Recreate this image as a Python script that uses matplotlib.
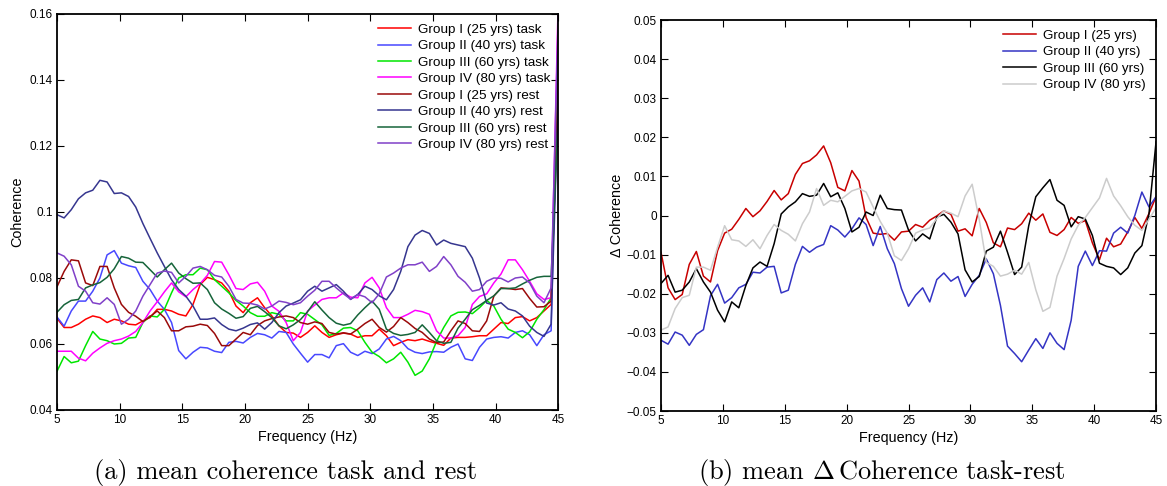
import numpy as np
import matplotlib
matplotlib.use("Agg")
import matplotlib.pyplot as plt

plt.rcParams['font.family'] = ['Liberation Sans', 'DejaVu Sans']
plt.rcParams['mathtext.fontset'] = 'cm'

freq = np.linspace(5, 45, 71)

# ---- panel (a): mean coherence (task / rest) ----
g1_task = [67.8, 65, 65, 66, 67.5, 68.5, 68, 66.5, 67.5, 67, 66, 65.8, 67, 68, 70.5, 70.5, 70, 69, 68.5, 72,
           78, 80.2, 79.5, 78.5, 76, 71.5, 69.5, 72.5, 74, 71, 68.5, 65.5, 63.5, 63.3, 62, 63.5, 65.5, 63.5, 62, 62.8,
           63.3, 63, 62, 62.5, 62.5, 64.5, 62.5, 59.5, 60.5, 61.3, 61, 61.5, 60.8, 60.2, 59.6, 61.8, 62, 62, 62.2, 62.5,
           62.5, 64.5, 66.5, 66.2, 68, 68.3, 67, 68, 70, 72, 142]
g2_task = [68.2, 65.4, 70, 73, 73, 76, 80, 87, 88.3, 84.5, 83.7, 83.2, 79, 76.5, 73, 70.5, 66.5, 58, 55.5, 57.5,
           59, 58.8, 57.8, 57.4, 60.5, 60.8, 60.3, 62, 63.2, 62.8, 61.8, 63.8, 63.5, 60, 57.2, 54.5, 56.8, 56.8, 55.8, 59.5,
           60.1, 57.5, 56.5, 57.8, 57.1, 58.5, 61.5, 62.3, 61, 58.6, 57.5, 57.1, 57.6, 57.7, 57.5, 59, 60, 55.5, 55, 59,
           61.5, 62, 62.2, 61.8, 63.5, 64, 62.8, 59.5, 62.8, 64, 155]
g3_task = [51.7, 56.2, 54.3, 54.8, 59.5, 63.8, 61.5, 61, 60, 60.2, 61.8, 62, 66.5, 68.5, 68.2, 70.5, 75.5, 80, 81, 81,
           83, 82.5, 79.5, 77.5, 75.5, 73.2, 71.5, 69.5, 68.4, 68.4, 69.5, 69, 67, 67, 69.5, 69, 67.4, 65.8, 62.6, 63.2,
           64.8, 65, 64, 60.5, 57.5, 56.2, 54.3, 55.5, 57.5, 54.5, 50.5, 51.8, 55.5, 60.8, 65, 68.5, 69.6, 69.7, 69.2, 71,
           73.2, 71.5, 67.5, 64.5, 63.5, 61.9, 63.7, 67.5, 70.4, 74, 148]
g4_task = [57.8, 57.8, 57.8, 55.7, 54.9, 57.2, 58.8, 60.2, 61, 61.5, 62.4, 63.8, 66.5, 70, 72.8, 75.8, 78.5, 75.8, 74.3, 76.5,
           78.3, 80.8, 85, 84.8, 81, 76.8, 76.5, 78.2, 78.7, 76, 71.5, 69.9, 66.5, 61, 63.5, 70, 71.8, 73.5, 74, 74,
           75.5, 74.2, 74, 78.5, 80.2, 77, 71, 68, 68, 69, 70.2, 69.8, 69, 64, 61.8, 61.8, 62.5, 65, 72, 74.4,
           75.2, 78.5, 81.2, 85.5, 85.5, 82.5, 79, 75.2, 73.5, 74, 165]
g1_rest = [77.3, 82, 85.5, 85.2, 78.5, 77.7, 83.5, 83.5, 77, 72, 69.6, 68.4, 66.8, 68.3, 70, 68, 64, 64, 65.2, 65.4,
           66, 65.6, 63.2, 59.5, 59.5, 61.5, 63.5, 62.8, 65.6, 67, 67.7, 68.2, 68.5, 68, 66.5, 66, 66.7, 66.2, 63.5, 63,
           63.4, 63, 64.5, 66.2, 67.5, 65, 63.6, 65.3, 68, 66.5, 64.7, 63.5, 61.5, 60.4, 60.6, 64, 67, 66.2, 64, 63.8,
           67, 74.5, 77, 76.8, 76.5, 76.8, 73.8, 71.2, 71.3, 73, 140]
g2_rest = [99.2, 98.2, 100.7, 104, 105.8, 106.6, 109.6, 109.1, 105.6, 105.8, 104.7, 101.5, 96.5, 92, 87.6, 83.5, 79.5, 76.5, 74.5, 71.5,
           67.5, 67.5, 67.9, 65.9, 64.5, 64, 64.8, 65.9, 66.4, 64.5, 66.5, 69.5, 71.5, 72.4, 73.4, 76, 77.5, 76, 77, 78,
           76, 73.5, 75, 77.5, 76.5, 74.6, 73.4, 76.5, 82, 89.5, 93, 94.4, 93.5, 90, 91.5, 90.5, 90, 89.5, 86, 80,
           72.4, 71.8, 72.5, 70.6, 70, 68.5, 65.4, 63.5, 62.3, 66, 135]
g3_rest = [69.6, 71.9, 73.2, 73.5, 77, 77.9, 78.6, 80.2, 82.8, 86.5, 86, 84.8, 84.7, 82.5, 80.3, 82.5, 84.5, 81.5, 79.8, 78.4,
           78.5, 76.5, 72.5, 70.6, 69.3, 67.8, 68.3, 70.8, 71.4, 69.8, 68, 65.5, 64.6, 65.8, 67.4, 69.8, 72.8, 70.3, 68, 66.3,
           65.7, 66.2, 68.8, 71, 73, 70.5, 64.5, 63.2, 62.6, 62.9, 63.5, 65.8, 63.5, 61, 60.2, 60.5, 64.8, 67.5, 70.4, 71.7,
           73.2, 74.6, 76.8, 76.8, 77, 78.2, 79.3, 80.2, 80.5, 80.5, 129]
g4_rest = [87.6, 86.6, 84, 77.5, 76, 72.5, 72.1, 74, 72, 66, 67.5, 70, 74.5, 78, 81.5, 82.1, 81.7, 78.5, 80.5, 83,
           83.5, 82.5, 80.8, 80.3, 77.5, 73.5, 72.4, 72.3, 71.8, 70.6, 71.5, 73, 72.6, 71.9, 72.5, 74.5, 76.3, 79, 79, 77,
           75.2, 73.6, 75, 74.3, 72.5, 75.2, 80.3, 81.5, 83, 84, 84, 84.8, 82, 83.5, 86.5, 84, 80.5, 78.7, 76, 76.5,
           79, 80, 79.9, 78.8, 80, 80.3, 78.5, 74.5, 72.5, 77, 160]

# ---- panel (b): mean delta coherence (task - rest) ----
d_g1 = [-9.4, -18.5, -21.5, -20.2, -12.5, -9.2, -15.5, -17, -9, -4.5, -3.5, -1, 1.8, -0.3, 1.2, 3.6, 6.4, 4.0, 5.6, 10.5,
        13.3, 14, 15.5, 17.8, 13.5, 7.2, 6.3, 11.5, 8.8, -0.5, -4.5, -4.8, -4.6, -6.3, -4.2, -4, -2.3, -3, -1.2, -0.1,
        1.2, 0.3, -4, -3.4, -5.2, 1.8, -1.8, -7, -8, -3.2, -3.6, -2.1, 0.6, -1.2, 0.4, -4.3, -5.1, -3.6, -0.5, -2,
        -1.3, -7, -11.3, -5.8, -8, -7.3, -4.2, -0.5, -3.3, 0.5, 4.8]
d_g2 = [-31.9, -32.9, -29.8, -30.6, -33.2, -30.4, -29.2, -20.5, -17.6, -22.4, -21, -18.5, -17.6, -14.5, -14.7, -13.2, -13, -19.8, -19.1, -12.5,
        -7.9, -9.4, -8.1, -7.4, -2.6, -3.7, -5.5, -3.4, -0.6, -2.3, -7.7, -2.8, -8.5, -12.3, -18.7, -23.2, -20.4, -18.5, -22.1, -16.4,
        -14.7, -16.8, -15.6, -20.7, -17.6, -15.3, -11.1, -14.9, -23, -33.4, -35.3, -37.4, -34.4, -31.5, -34, -30, -32.7, -34.3, -26.8, -13,
        -9.1, -12.8, -9, -9.1, -4.5, -3, -4.5, 0, 6, 2.2, 4.8]
d_g3 = [-17.4, -15.3, -19.6, -19.1, -17, -13.6, -17, -19.6, -24.2, -27.2, -22.1, -23.6, -17.9, -13.4, -11.9, -13, -7.2, 0.4, 2.2, 3.5,
        5.6, 4.9, 5.2, 8.2, 4.8, 5.8, 1.8, -4.2, -3, 0.9, 0, 5.2, 1.8, 1.5, 1.4, -3.7, -6.5, -4.7, -6, -0.4,
        0.3, -1.7, -4.7, -13.9, -17, -15.6, -9.1, -8.1, -4, -9.4, -15.1, -13.2, -2.6, 4.8, 7.1, 9.2, 3.9, 2.6, -2.9, -0.3,
        -0.9, -5.1, -12.2, -13, -13.4, -15.1, -13.4, -9.6, -7.7, 0.4, 18.8]
d_g4 = [-29.3, -28.5, -23.8, -21, -20.4, -13.2, -13.2, -14, -8.1, -2.6, -6.2, -6.5, -7.9, -6.2, -8.5, -5.1, -2.3, -3.8, -4.8, -6.5,
        -2.1, 0.9, 6.9, 2.6, 3.9, 3.5, 4.9, 6.3, 6.9, 6, 2.2, -1.5, -4.5, -10.3, -11.5, -8.5, -4.5, -3.7, -3.2, -0.8,
        1.2, 0.6, -0.3, 5, 8, -1, -12, -13, -15.5, -15, -14, -15, -12, -19, -24.5, -23.5, -15.5, -11, -6, -2.5,
        -0.5, 2, 4.5, 9.5, 5, 2.5, -0.3, -2.5, -3.8, -1, 2]

labels_a = ['Group I (25 yrs) task', 'Group II (40 yrs) task', 'Group III (60 yrs) task', 'Group IV (80 yrs) task',
            'Group I (25 yrs) rest', 'Group II (40 yrs) rest', 'Group III (60 yrs) rest', 'Group IV (80 yrs) rest']
labels_b = ['Group I (25 yrs)', 'Group II (40 yrs)', 'Group III (60 yrs)', 'Group IV (80 yrs)']

xticks = [5, 10, 15, 20, 25, 30, 35, 40, 45]
yticks_a = [0.04, 0.06, 0.08, 0.10, 0.12, 0.14, 0.16]
yticklabels_a = ['0.04', '0.06', '0.08', '0.1', '0.12', '0.14', '0.16']
yticks_b = [-0.05, -0.04, -0.03, -0.02, -0.01, 0, 0.01, 0.02, 0.03, 0.04, 0.05]
yticklabels_b = ['\u22120.05', '\u22120.04', '\u22120.03', '\u22120.02', '\u22120.01', '0',
                 '0.01', '0.02', '0.03', '0.04', '0.05']

colors_a = ['#ff0000', '#4848ff', '#00e600', '#ff00ff', '#9a0a0a', '#36368f', '#16643a', '#8040c8']
colors_b = ['#c80000', '#3434c4', '#000000', '#cccccc']

fig = plt.figure(figsize=(11.67, 4.86), dpi=100)
axA = fig.add_axes([0.0488, 0.1564, 0.4296, 0.8148])
axB = fig.add_axes([0.5664, 0.1543, 0.4242, 0.8045])

series_a = [g1_task, g2_task, g3_task, g4_task, g1_rest, g2_rest, g3_rest, g4_rest]
for vals, c, lab in zip(series_a, colors_a, labels_a):
    axA.plot(freq, np.array(vals) / 1000.0, color=c, lw=1.1, label=lab)

series_b = [d_g1, d_g2, d_g3, d_g4]
for vals, c, lab in zip(series_b, colors_b, labels_b):
    axB.plot(freq, np.array(vals) / 1000.0, color=c, lw=1.1, label=lab)

for ax in (axA, axB):
    ax.set_xlim(5, 45)
    ax.set_xticks(xticks)
    ax.set_xticklabels([str(t) for t in xticks])
    ax.tick_params(direction='in', top=True, right=True, length=5, width=0.8,
                   labelsize=8.5, colors='black', pad=3)
    for s in ax.spines.values():
        s.set_linewidth(1.3)
    ax.set_xlabel('Frequency (Hz)', fontsize=10.4, labelpad=3)

axA.set_ylim(0.04, 0.16)
axA.set_yticks(yticks_a)
axA.set_yticklabels(yticklabels_a)
axA.set_ylabel('Coherence', fontsize=10.4, labelpad=4)

axB.set_ylim(-0.05, 0.05)
axB.set_yticks(yticks_b)
axB.set_yticklabels(yticklabels_b)
axB.set_ylabel('\u0394 Coherence', fontsize=10.4, labelpad=2)

legA = axA.legend(loc='upper right', frameon=False, fontsize=9.7, handlelength=2.45,
                  labelspacing=0.3, handletextpad=0.55, borderaxespad=0.0,
                  bbox_to_anchor=(0.995, 0.99))
legB = axB.legend(loc='upper right', frameon=False, fontsize=9.6, handlelength=2.45,
                  labelspacing=0.32, handletextpad=0.55, borderaxespad=0.0,
                  bbox_to_anchor=(0.99, 0.99))

fig.text(286 / 1167, 1 - 479 / 486, '(a) mean coherence task and rest', family='cmr10',
         fontsize=19, ha='center', va='baseline')
fig.text(882 / 1167, 1 - 479 / 486, r'(b) mean $\mathit{\Delta}\,$Coherence task-rest', family='cmr10',
         fontsize=19, ha='center', va='baseline')

fig.savefig('out.png', dpi=100)
